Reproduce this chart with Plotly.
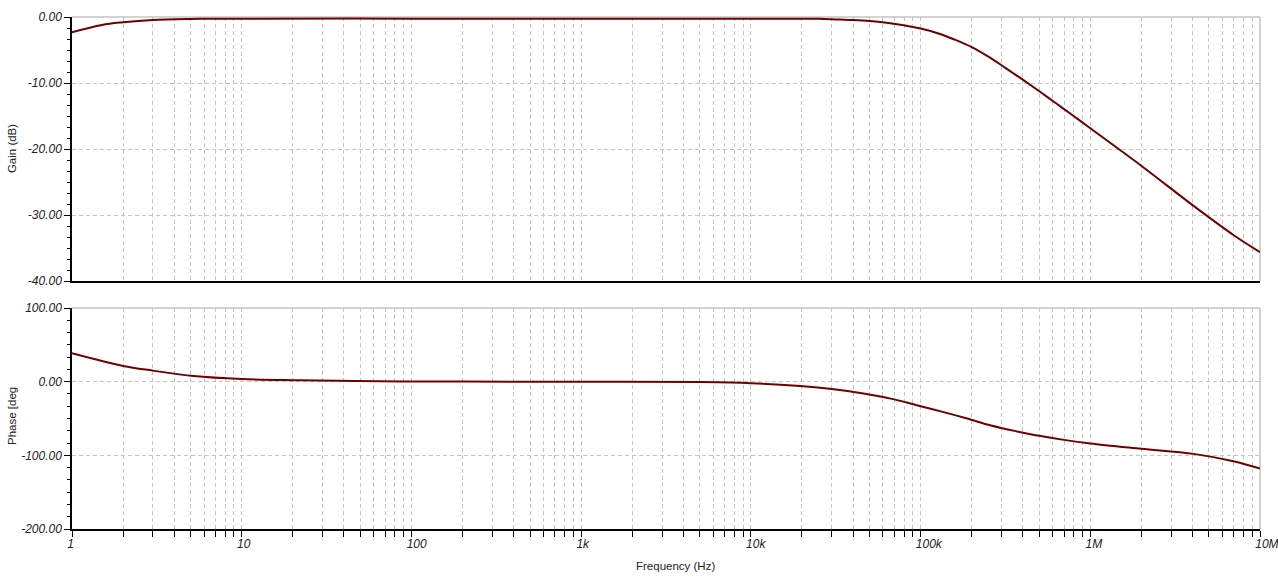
import plotly.graph_objects as go

# ---- data ----
freq_gain = [1, 1.5, 2, 3, 5, 10, 100, 1000, 10000, 25000,
             31600, 39800, 50100, 63100, 79400, 100000, 126000, 158000, 200000, 251000,
             316000, 398000, 501000, 631000, 794000, 1e6, 2.04e6, 4.06e6, 6.97e6, 1e7]
gain_db = [-2.3, -1.2, -0.8, -0.45, -0.3, -0.25, -0.25, -0.25, -0.25, -0.28,
           -0.37, -0.47, -0.62, -0.88, -1.25, -1.75, -2.45, -3.4, -4.55, -6.0,
           -7.7, -9.45, -11.25, -13.1, -14.95, -16.85, -22.7, -28.6, -33.0, -35.6]

freq_phase = [1, 2, 3, 5.2, 10, 22, 65, 200, 1000, 5000, 10000, 19500, 30000, 48000,
              70000, 95000, 135000, 188000, 260000, 370000, 500000, 700000, 1e6, 2e6,
              4.06e6, 6.97e6, 1e7]
phase_deg = [38.5, 21.3, 15, 7.7, 3.6, 1.9, 0.5, 0.1, 0, -0.5, -2, -6, -10, -16.6,
             -24, -32, -41, -50, -59.5, -67.5, -73.5, -79, -83.8, -91, -98, -108, -118]

x_tick_labels = ['1', '10', '100', '1k', '10k', '100k', '1M', '10M']
gain_ticks = [0, -10, -20, -30, -40]
gain_labels = ['0.00', '-10.00', '-20.00', '-30.00', '-40.00']
phase_ticks = [100, 0, -100, -200]
phase_labels = ['100.00', '0.00', '-100.00', '-200.00']

# ---- styling ----
LINE = '#700000'
GRID = '#c4c4c4'
GRIDDASH = '4px,3px'
TICKFONT = dict(family='Arial, Liberation Sans, sans-serif', size=12, style='italic', color='#222222')
TITLEFONT = dict(family='Arial, Liberation Sans, sans-serif', size=11.5, color='#222222')

# x tick positions (1..9 per decade)
x_vals = []
x_text = []
for d in range(7):
    for m in range(1, 10):
        x_vals.append(m * 10 ** d)
        x_text.append(x_tick_labels[d] if m == 1 else '')
x_vals.append(1e7)
x_text.append(x_tick_labels[7])

fig = go.Figure()
fig.add_trace(go.Scatter(x=freq_gain, y=gain_db, mode='lines',
                         line=dict(color=LINE, width=2, shape='spline', smoothing=1.0),
                         xaxis='x', yaxis='y', showlegend=False, hoverinfo='skip'))
fig.add_trace(go.Scatter(x=freq_phase, y=phase_deg, mode='lines',
                         line=dict(color=LINE, width=2, shape='spline', smoothing=1.0),
                         xaxis='x2', yaxis='y2', showlegend=False, hoverinfo='skip'))

common_x = dict(type='log', range=[0, 7], tickvals=x_vals, showgrid=True, gridcolor=GRID, griddash=GRIDDASH,
                gridwidth=1, showline=True, linecolor='black', linewidth=1.5, zeroline=False,
                automargin=False)

fig.update_layout(
    width=1278, height=584,
    margin=dict(l=72, r=18, t=17, b=55),
    paper_bgcolor='white', plot_bgcolor='white',
    xaxis=dict(**common_x, domain=[0, 1], anchor='y', ticks='', showticklabels=False,
               ticktext=['' for _ in x_vals]),
    yaxis=dict(domain=[0.484, 1], range=[-40, 0], tickvals=gain_ticks, ticktext=gain_labels,
               ticks='outside', ticklen=6, tickcolor='black', tickwidth=1, tickfont=TICKFONT,
               showgrid=True, gridcolor=GRID, griddash=GRIDDASH, zeroline=False,
               showline=True, linecolor='black', linewidth=1.5, anchor='x', automargin=False,
               minor=dict(dtick=10 / 6, tick0=0, ticks='outside', ticklen=3, tickcolor='black', showgrid=False)),
    xaxis2=dict(**common_x, domain=[0, 1], anchor='y2', ticktext=x_text, ticks='outside', ticklen=6,
                tickcolor='black', tickwidth=1, tickfont=TICKFONT,
                ticklabelposition='outside right', ticklabelshift=-6, ticklabelstandoff=3,
                ticklabeloverflow='allow'),
    yaxis2=dict(domain=[0, 0.4316], range=[-200, 100], tickvals=phase_ticks, ticktext=phase_labels,
                ticks='outside', ticklen=6, tickcolor='black', tickwidth=1, tickfont=TICKFONT,
                showgrid=True, gridcolor=GRID, griddash=GRIDDASH, zeroline=False,
                showline=True, linecolor='black', linewidth=1.5, anchor='x2', automargin=False,
                minor=dict(dtick=100 / 6, tick0=0, ticks='outside', ticklen=3, tickcolor='black', showgrid=False)),
    annotations=[
        dict(text='Gain (dB)', xref='paper', yref='paper', x=-0.0505, y=0.742, textangle=-90,
             showarrow=False, xanchor='center', yanchor='middle', font=TITLEFONT),
        dict(text='Phase [deg', xref='paper', yref='paper', x=-0.0505, y=0.2207, textangle=-90,
             showarrow=False, xanchor='center', yanchor='middle', font=TITLEFONT),
        dict(text='Frequency (Hz)', xref='paper', yref='paper', x=0.508, y=-0.0723,
             showarrow=False, xanchor='center', yanchor='middle', font=TITLEFONT),
    ],
    shapes=[
        dict(type='line', xref='x domain', yref='y domain', x0=0, x1=1, y0=1, y1=1,
             line=dict(color=GRID, width=1.5), layer='below'),
        dict(type='line', xref='x domain', yref='y domain', x0=1, x1=1, y0=0, y1=1,
             line=dict(color=GRID, width=1.5), layer='below'),
        dict(type='line', xref='x2 domain', yref='y2 domain', x0=0, x1=1, y0=1, y1=1,
             line=dict(color=GRID, width=1.5), layer='below'),
        dict(type='line', xref='x2 domain', yref='y2 domain', x0=1, x1=1, y0=0, y1=1,
             line=dict(color=GRID, width=1.5), layer='below'),
    ],
)

fig.write_html('out.html', config={'displayModeBar': False},
               post_script="document.body.style.margin='0';document.body.style.overflow='hidden';")
